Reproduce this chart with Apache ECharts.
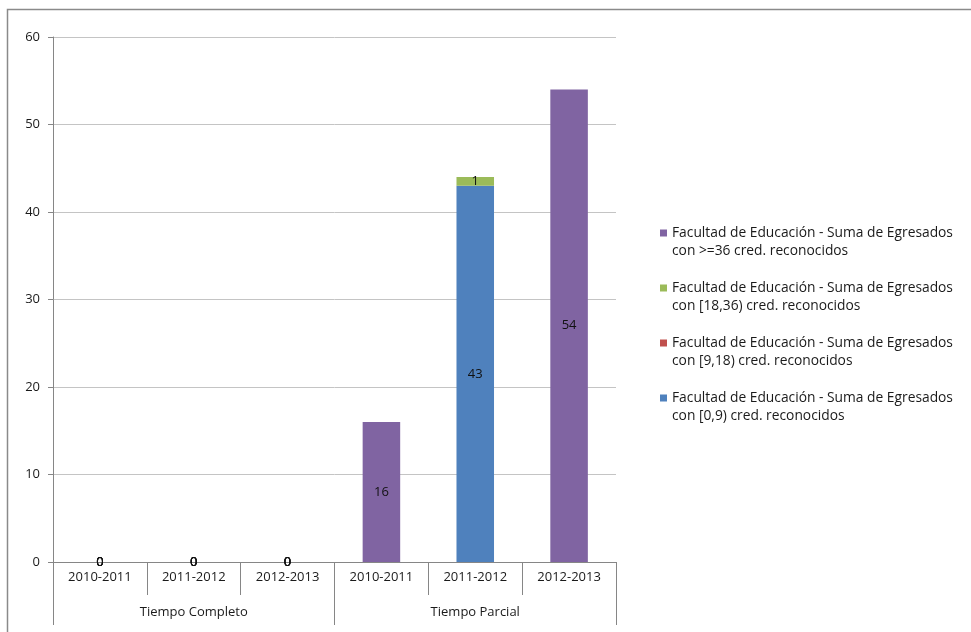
<!DOCTYPE html>
<html>
<head>
<meta charset="utf-8">
<script src="https://cdn.jsdelivr.net/npm/echarts@6/dist/echarts.min.js"></script>
<style>
html,body{margin:0;padding:0;background:#fff;}
#chart{width:971px;height:632px;}
</style>
</head>
<body>
<div id="chart"></div>
<script>
var years = ['2010-2011','2011-2012','2012-2013','2010-2011','2011-2012','2012-2013'];
var groups = ['Tiempo Completo','Tiempo Parcial'];
var seriesNames = [
  'Facultad de Educación - Suma de Egresados con [0,9) cred. reconocidos',
  'Facultad de Educación - Suma de Egresados con [9,18) cred. reconocidos',
  'Facultad de Educación - Suma de Egresados con [18,36) cred. reconocidos',
  'Facultad de Educación - Suma de Egresados con >=36 cred. reconocidos'
];
var s0to9   = [0, 0, 0, null, 43, null];
var s9to18  = [0, 0, 0, null, null, null];
var s18to36 = [0, 0, 0, null, 1, null];
var s36     = [0, 0, 0, 16, null, 54];
var colors = ['#4F81BD', '#C0504D', '#9BBB59', '#8064A2'];
var yTicks = [0, 10, 20, 30, 40, 50, 60];

var FONT = 'Open Sans';
var chart = echarts.init(document.getElementById('chart'));
var values = [s0to9, s9to18, s18to36, s36];
var series = values.map(function (v, i) {
  return {
    name: seriesNames[i],
    type: 'bar',
    stack: 'total',
    data: v,
    barWidth: '40%',
    itemStyle: { color: colors[i] },
    label: {
      show: true, position: 'inside', color: '#111',
      fontFamily: FONT, fontSize: 13
    }
  };
});

chart.setOption({
  animation: false,
  backgroundColor: '#fff',
  graphic: [{
    type: 'rect', left: 5, top: 7, silent: true,
    shape: { width: 1000, height: 700 },
    style: { fill: 'none', stroke: '#8a8a8a', lineWidth: 1.5 }
  }],
  grid: { left: 53, right: 355, top: 37, bottom: 70 },
  legend: {
    orient: 'vertical', left: 655, top: 201,
    itemWidth: 7, itemHeight: 7, itemGap: 1,
    data: [seriesNames[3], seriesNames[2], seriesNames[1], seriesNames[0]],
    icon: 'rect',
    formatter: function (n) { return ' \n' + n.replace(' con ', '\ncon '); },
    textStyle: {
      fontFamily: FONT, fontSize: 13.8, color: '#1a1a1a',
      lineHeight: 18
    }
  },
  xAxis: [{
    type: 'category', data: years, position: 'bottom',
    axisLine: { lineStyle: { color: '#868686' } },
    axisTick: { show: true, interval: 0, length: 33, lineStyle: { color: '#868686' } },
    axisLabel: { interval: 0, margin: 9, color: '#1a1a1a', fontFamily: FONT, fontSize: 13 }
  }, {
    type: 'category', data: groups, position: 'bottom',
    axisLine: { show: false },
    axisTick: { show: true, interval: 0, length: 63, lineStyle: { color: '#868686' } },
    axisLabel: { interval: 0, margin: 44, color: '#1a1a1a', fontFamily: FONT, fontSize: 13 }
  }],
  yAxis: {
    type: 'value', min: yTicks[0], max: yTicks[yTicks.length - 1], interval: 10,
    axisLine: { show: true, lineStyle: { color: '#868686' } },
    axisTick: { show: true, length: 5, lineStyle: { color: '#868686' } },
    splitLine: { lineStyle: { color: '#c4c4c4' } },
    axisLabel: { margin: 13, color: '#1a1a1a', fontFamily: FONT, fontSize: 13 }
  },
  series: series
});
</script>
</body>
</html>
